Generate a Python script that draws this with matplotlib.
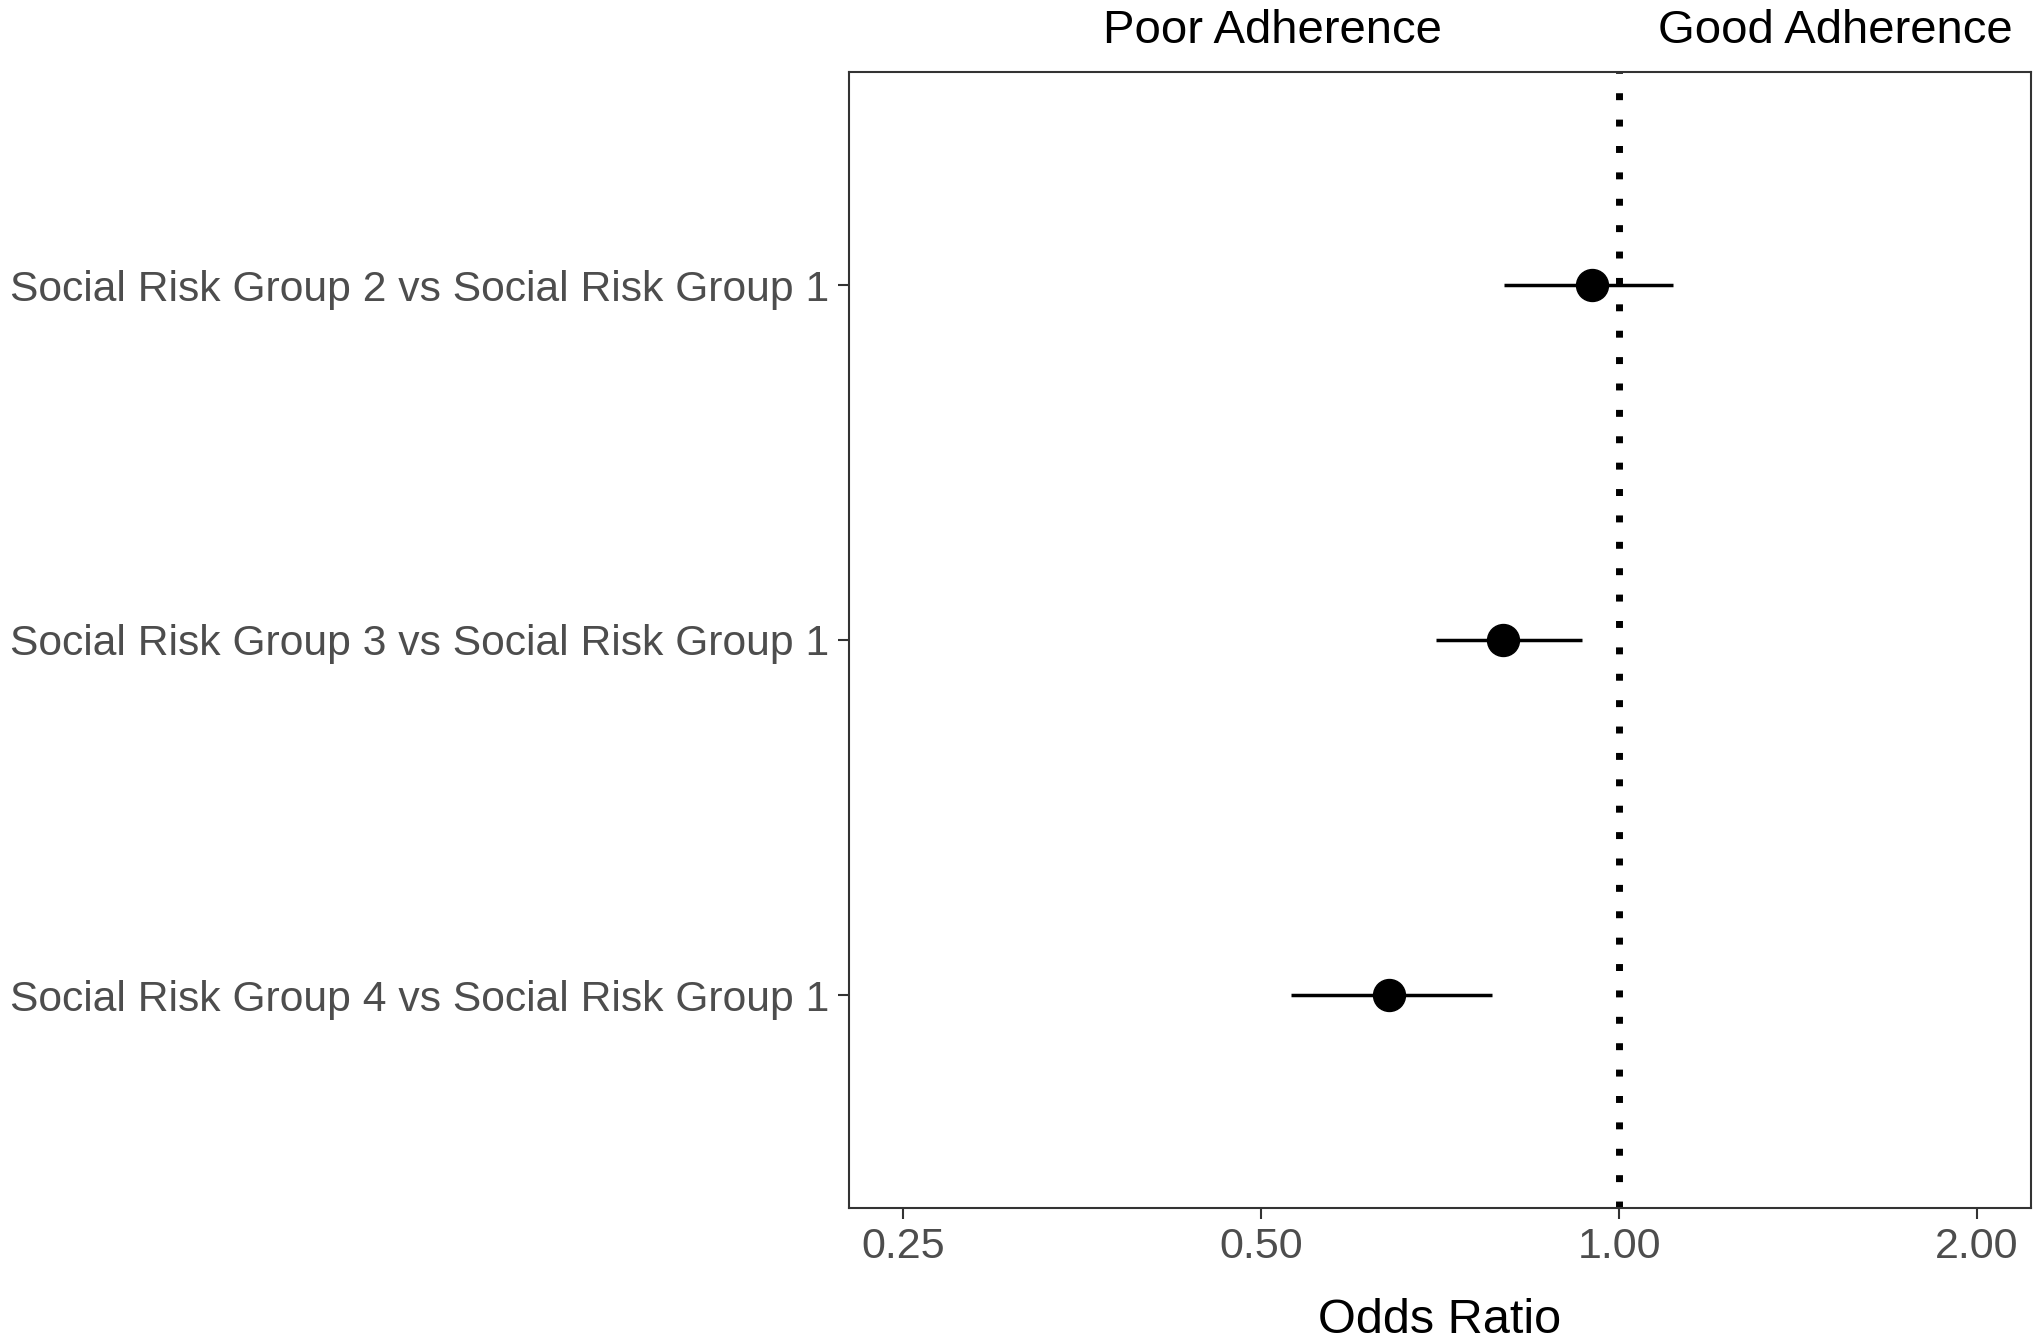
import numpy as np
import matplotlib
matplotlib.use('Agg')
import matplotlib.pyplot as plt
from matplotlib.ticker import FixedLocator, NullLocator

# data
groups = ["Social Risk Group 2 vs Social Risk Group 1",
          "Social Risk Group 3 vs Social Risk Group 1",
          "Social Risk Group 4 vs Social Risk Group 1"]
odds   = [0.948, 0.799, 0.640]
ci_lo  = [0.800, 0.701, 0.530]
ci_hi  = [1.109, 0.930, 0.781]
xticks = [0.25, 0.5, 1.0, 2.0]
xtick_labels = ["0.25", "0.50", "1.00", "2.00"]

plt.rcParams['font.family'] = ['Liberation Sans', 'DejaVu Sans']

W, H = 2041, 1343
fig = plt.figure(figsize=(W / 100, H / 100), dpi=100)
ax = fig.add_axes([849 / W, 1 - 1208 / H, (2031 - 849) / W, (1208 - 72) / H])

y = np.arange(1, len(groups) + 1)

# reference line at OR = 1
ax.axvline(1.0, color='black', lw=5, linestyle=(0, (1, 2.8)), dash_capstyle='butt', zorder=1)

# CIs and point estimates
ax.hlines(y, ci_lo, ci_hi, color='black', lw=2.5, zorder=2)
ax.plot(odds, y, 'o', color='black', ms=23, zorder=3)

ax.set_xscale('log')
ax.set_xlim(0.225, 2.22)
ax.xaxis.set_major_locator(FixedLocator(xticks))
ax.xaxis.set_minor_locator(NullLocator())
ax.set_xticklabels(xtick_labels)
ax.set_ylim(len(groups) + 0.6, 0.4)
ax.set_yticks(y)
ax.set_yticklabels(groups)

ax.tick_params(axis='both', length=8, width=1.5, color='#333333',
               labelsize=31, labelcolor='#4D4D4D', pad=6)
ax.tick_params(axis='y', labelsize=30.7)
for sp in ax.spines.values():
    sp.set_linewidth(1.5)
    sp.set_color('#333333')

ax.set_xlabel("Odds Ratio", fontsize=35, color='black', va='baseline')
ax.xaxis.set_label_coords(0.5, -0.11)

# direction labels above the panel
ax.text(0.511, 1.0255, "Poor Adherence", transform=ax.get_xaxis_transform(),
        ha='center', va='baseline', fontsize=34, color='black', clip_on=False)
ax.text(1.52, 1.0255, "Good Adherence", transform=ax.get_xaxis_transform(),
        ha='center', va='baseline', fontsize=34, color='black', clip_on=False)

fig.savefig("out.png", dpi=100, facecolor='white')
